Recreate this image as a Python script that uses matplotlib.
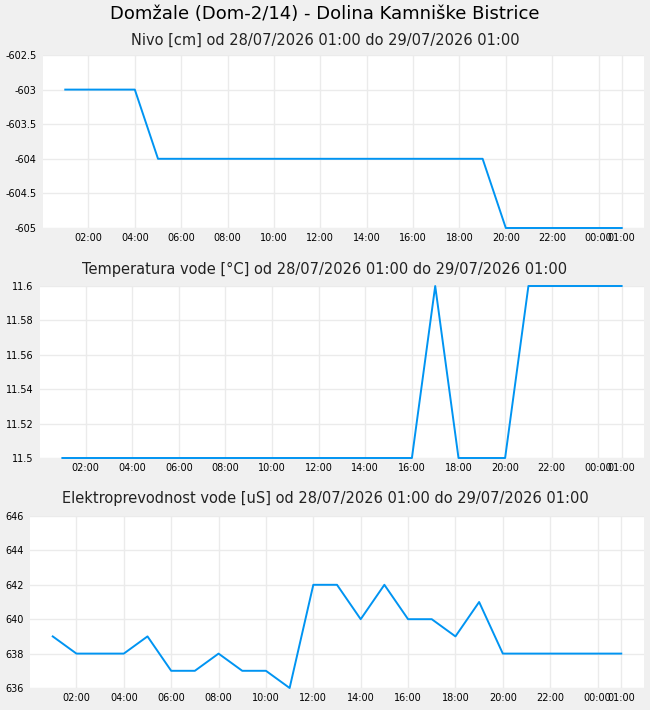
import matplotlib
matplotlib.use('Agg')

import matplotlib.pyplot as plt
import matplotlib.dates as mdates
import numpy as np
import pandas as pd

# ---------------------------
# DATA (hourly, 28/07 01:00 -> 29/07 01:00)
# ---------------------------
times = pd.date_range("2026-07-28 01:00", "2026-07-29 01:00", freq="h")

nivo = [-603, -603, -603, -603, -604, -604, -604, -604, -604, -604,
        -604, -604, -604, -604, -604, -604, -604, -604, -604, -605,
        -605, -605, -605, -605, -605]

temperatura = [11.5, 11.5, 11.5, 11.5, 11.5, 11.5, 11.5, 11.5, 11.5, 11.5,
               11.5, 11.5, 11.5, 11.5, 11.5, 11.5, 11.6, 11.5, 11.5, 11.5,
               11.6, 11.6, 11.6, 11.6, 11.6]

prevodnost = [639, 638, 638, 638, 639, 637, 637, 638, 637, 637,
              636, 642, 642, 640, 642, 640, 640, 639, 641, 638,
              638, 638, 638, 638, 638]

tick_times = pd.to_datetime(["2026-07-28 02:00", "2026-07-28 04:00", "2026-07-28 06:00",
                             "2026-07-28 08:00", "2026-07-28 10:00", "2026-07-28 12:00",
                             "2026-07-28 14:00", "2026-07-28 16:00", "2026-07-28 18:00",
                             "2026-07-28 20:00", "2026-07-28 22:00", "2026-07-29 00:00",
                             "2026-07-29 01:00"])
tick_labels = ["02:00", "04:00", "06:00", "08:00", "10:00", "12:00", "14:00",
               "16:00", "18:00", "20:00", "22:00", "00:00", "01:00"]

main_title = "Domžale (Dom-2/14) - Dolina Kamniške Bistrice"
titles = ["Nivo [cm] od 28/07/2026 01:00 do 29/07/2026 01:00",
          "Temperatura vode [°C] od 28/07/2026 01:00 do 29/07/2026 01:00",
          "Elektroprevodnost vode [uS] od 28/07/2026 01:00 do 29/07/2026 01:00"]

y_ticks = [[-605, -604.5, -604, -603.5, -603, -602.5],
           [11.5, 11.52, 11.54, 11.56, 11.58, 11.6],
           [636, 638, 640, 642, 644, 646]]
y_labels = [["-605", "-604.5", "-604", "-603.5", "-603", "-602.5"],
            ["11.5", "11.52", "11.54", "11.56", "11.58", "11.6"],
            ["636", "638", "640", "642", "644", "646"]]

# ---------------------------
# STYLE
# ---------------------------
BG = '#f0f0f0'
GRID = '#ebebeb'
LINE = '#0094f2'

fig = plt.figure(figsize=(6.5, 7.1), dpi=100, facecolor=BG)

# axes rectangles [left, bottom, width, height] in figure fractions
rects = [[43/650, 1 - 228/710, 601/650, 173/710],
         [40/650, 1 - 458/710, 604/650, 172/710],
         [30/650, 1 - 688/710, 614/650, 172/710]]
title_y = [40, 269, 499]
series = [nivo, temperatura, prevodnost]

t0 = mdates.date2num(times[0])
t1 = mdates.date2num(times[-1])
pad = 0.04 * (t1 - t0)

fig.text(0.5, 1 - 14/710, main_title, ha='center', va='center',
         fontsize=13, color='black')

for i in range(3):
    ax = fig.add_axes(rects[i])
    ax.set_facecolor('white')
    for s in ax.spines.values():
        s.set_visible(False)

    ax.plot(times, series[i], color=LINE, lw=1.4, clip_on=False, zorder=3)

    ax.set_xlim(t0 - pad, t1 + pad)
    ax.set_ylim(y_ticks[i][0], y_ticks[i][-1])

    ax.set_xticks(tick_times)
    ax.set_xticklabels(tick_labels)
    ax.set_yticks(y_ticks[i])
    ax.set_yticklabels(y_labels[i])

    ax.tick_params(axis='both', length=0, labelsize=7, colors='black')
    ax.tick_params(axis='y', pad=4.5)
    ax.tick_params(axis='x', pad=3.5)

    ax.grid(True, color=GRID, lw=1.0)
    ax.set_axisbelow(True)

    fig.text(0.5, 1 - title_y[i]/710, titles[i], ha='center', va='center',
             fontsize=10.5, color='#222222')

fig.savefig('out.png', dpi=100, facecolor=BG)
